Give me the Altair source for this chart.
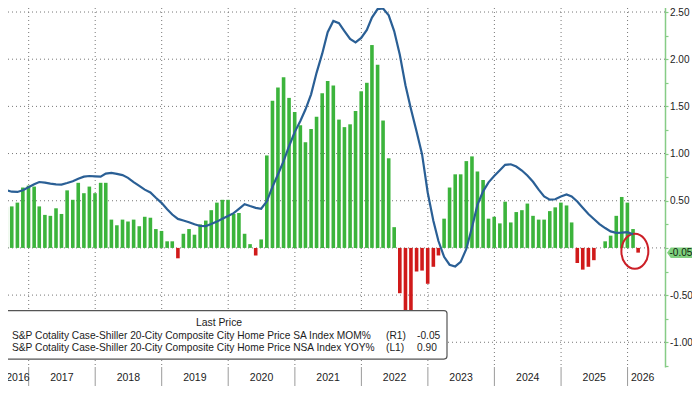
import altair as alt
import pandas as pd

# ---------------- data ----------------
# S&P Cotality Case-Shiller 20-City SA Index MoM %  (Aug 2016 .. Feb 2026)
mom_2016 = [0.43, 0.44, 0.48, 0.64, 0.66]
mom_2017 = [0.65, 0.44, 0.35, 0.34, 0.42, 0.36, 0.61, 0.51, 0.69, 0.58, 0.65, 0.58]
mom_2018 = [0.69, 0.69, 0.30, 0.24, 0.30, 0.28, 0.30, 0.23, 0.33, 0.32, 0.20, 0.18]
mom_2019 = [0.07, 0.07, -0.11, 0.15, 0.20, 0.14, 0.25, 0.29, 0.40, 0.48, 0.51, 0.51]
mom_2020 = [0.36, 0.37, 0.15, 0.04, -0.08, 0.09, 0.98, 1.56, 1.70, 1.81, 1.59, 1.44]
mom_2021 = [1.30, 1.12, 1.26, 1.39, 1.64, 1.77, 1.72, 1.36, 1.28, 1.31, 1.45, 1.66]
mom_2022 = [1.75, 2.15, 1.94, 1.35, 0.95, 0.22, -0.48, -0.80, -0.75, -0.25, -0.24, -0.38]
mom_2023 = [-0.20, -0.08, 0.31, 0.64, 0.78, 0.78, 0.92, 0.97, 0.81, 0.72, 0.31, 0.33]
mom_2024 = [0.26, 0.49, 0.27, 0.38, 0.40, 0.47, 0.34, 0.30, 0.30, 0.39, 0.43, 0.48]
mom_2025 = [0.45, 0.27, -0.16, -0.23, -0.20, -0.13, 0.00, 0.07, 0.13, 0.34, 0.54, 0.48]
mom_2026 = [0.20, -0.05]
mom_start = (2016, 8)

# S&P Cotality Case-Shiller 20-City NSA Index YoY %  (Jul 2016 .. Jan 2026)
yoy_2016 = [5.25, 5.10, 4.97, 4.95, 5.10, 5.36]
yoy_2017 = [5.63, 5.83, 5.78, 5.68, 5.62, 5.60, 5.74, 5.90, 6.12, 6.30, 6.36, 6.33]
yoy_2018 = [6.31, 6.58, 6.63, 6.55, 6.44, 6.20, 5.82, 5.49, 5.15, 4.90, 4.43, 3.98]
yoy_2019 = [3.42, 2.95, 2.56, 2.42, 2.27, 2.08, 1.93, 1.92, 2.10, 2.32, 2.57, 2.81]
yoy_2020 = [3.07, 3.45, 3.87, 3.70, 3.54, 3.46, 4.12, 5.40, 6.50, 7.68, 9.00, 10.25]
yoy_2021 = [11.24, 12.25, 13.60, 15.50, 17.20, 19.10, 20.10, 19.90, 19.20, 18.50, 18.20, 18.60]
yoy_2022 = [19.30, 20.40, 21.15, 21.20, 20.60, 19.20, 17.10, 14.40, 12.30, 10.30, 8.30, 4.90]
yoy_2023 = [2.40, 0.60, -0.80, -1.50, -1.65, -1.25, -0.10, 1.80, 3.80, 5.00, 5.80, 6.37]
yoy_2024 = [6.87, 7.35, 7.40, 7.20, 6.85, 6.40, 5.85, 5.15, 4.55, 4.27, 4.30, 4.55]
yoy_2025 = [4.72, 4.55, 4.10, 3.55, 3.00, 2.55, 2.10, 1.75, 1.45, 1.33, 1.34, 1.38]
yoy_2026 = [1.20]
yoy_start = (2016, 7)

year_boundaries = [str(y) for y in range(2017, 2027)]
year_labels = ["2016", "2017", "2018", "2019", "2020", "2021", "2022", "2023", "2024", "2025", "2026"]
year_label_dates = ["2016-11-03", "2017-07-02", "2018-07-02", "2019-07-02", "2020-07-02",
                    "2021-07-02", "2022-07-02", "2023-07-02", "2024-07-02", "2025-07-02", "2026-03-25"]
right_ticks = [-1.25, -1.0, -0.75, -0.5, -0.25, 0.0, 0.25, 0.5, 0.75, 1.0, 1.25, 1.5, 1.75, 2.0, 2.25, 2.5]
grid_levels = [-1.0, -0.5, 0.0, 0.5, 1.0, 1.5, 2.0, 2.5]

legend_title = "Last Price"
legend_names = ["S&P Cotality Case-Shiller 20-City Composite City Home Price SA Index MOM%",
                "S&P Cotality Case-Shiller 20-City Composite City Home Price NSA Index YOY%"]
legend_axes = ["(R1)", "(L1)"]
legend_last = ["-0.05", "0.90"]
last_value = -0.05
last_label = "-0.05"
highlight_date = "2026-02-10"
highlight_value = -0.036

# ---------------- helpers ----------------
def month_ends(start, n):
    y, m = start
    out = []
    for _ in range(n):
        ts = pd.Timestamp(year=y, month=m, day=1) + pd.offsets.MonthEnd(0)
        out.append(ts.strftime("%Y-%m-%d"))
        m += 1
        if m > 12:
            m = 1
            y += 1
    return out


def ms(s):
    return int(pd.Timestamp(s, tz="UTC").timestamp() * 1000)


mom = mom_2016 + mom_2017 + mom_2018 + mom_2019 + mom_2020 + mom_2021 + mom_2022 + mom_2023 + mom_2024 + mom_2025 + mom_2026
yoy = yoy_2016 + yoy_2017 + yoy_2018 + yoy_2019 + yoy_2020 + yoy_2021 + yoy_2022 + yoy_2023 + yoy_2024 + yoy_2025 + yoy_2026

df_bar = pd.DataFrame({"date": month_ends(mom_start, len(mom)), "mom": mom})
df_line = pd.DataFrame({"date": month_ends(yoy_start, len(yoy)), "yoy": yoy})
df_years = pd.DataFrame({"date": [y + "-01-01" for y in year_boundaries]})
df_ylab = pd.DataFrame({"date": year_label_dates, "label": year_labels})
df_grid = pd.DataFrame({"v": grid_levels})
df_flag = pd.DataFrame({"v": [last_value], "t": [last_label]})
df_hl = pd.DataFrame({"date": [highlight_date], "v": [highlight_value]})
one = pd.DataFrame({"k": [0]})

quarters = []
for y in range(2016, 2027):
    for mth in (1, 4, 7, 10):
        d = f"{y}-{mth:02d}-01"
        if ms("2016-08-24") <= ms(d) <= ms("2026-06-28"):
            quarters.append(ms(d))

# ---------------- styling / layout ----------------
# svg is 684 x 378 (page has an 8px margin); the plot is pulled toward the page corner
W, H = 665, 363
PAD_L, PAD_T = -8, -4
SVG_W, SVG_H = 684, 378
KY = H / 367.0  # vertical layout factor
FONT = "Liberation Sans"
GREEN = "#3cb43c"
RED = "#d01a1a"
BLUE = "#2a5f95"
AXGREEN = "#86cc86"
FLAGGREEN = "#7fd07f"
GRID = "#777777"
TXT = "#1c1c1c"

x_scale = alt.Scale(domain=[ms("2016-08-24"), ms("2026-06-28")])
r_scale = alt.Scale(domain=[-1.262, 2.585], nice=False)
l_scale = alt.Scale(domain=[-10.56, 21.6], nice=False)

X = lambda: alt.X("date:T", scale=x_scale, axis=None, title=None)

label_expr = ("abs(datum.value*2 - round(datum.value*2)) < 0.001 && abs(datum.value) > 0.001 ? "
              "replace(format(datum.value, '.2f'), '\u2212', '-') : ''")
r_axis = alt.Axis(orient="right", values=right_ticks, labelExpr=label_expr, grid=False,
                  domainColor=AXGREEN, domainWidth=1.5, tickColor=AXGREEN, tickSize=3, tickWidth=1.2,
                  labelColor=TXT, labelFont=FONT, labelFontSize=10, labelPadding=1.5,
                  labelOverlap=False, labelFlush=False, title=None)
RY = lambda f: alt.Y(f, scale=r_scale, axis=r_axis, title=None)

vgrid = alt.Chart(df_years).mark_rule(color=GRID, strokeDash=[1, 3], strokeWidth=1).encode(
    x=X(), y=alt.value(0), y2=alt.value(H))

band_rules = alt.Chart(df_years).mark_rule(color="#9a9a9a", strokeWidth=1).encode(
    x=X(), y=alt.value(H), y2=alt.value(SVG_H + 10))

year_text = alt.Chart(df_ylab).mark_text(font=FONT, fontSize=10.5, color=TXT, baseline="middle").encode(
    x=X(), y=alt.value(H + 11), text="label:N")

hgrid = alt.Chart(df_grid).mark_rule(color=GRID, strokeDash=[1, 3], strokeWidth=1).encode(
    y=RY("v:Q"), x=alt.value(0), x2=alt.value(W))

bars = alt.Chart(df_bar).mark_bar(width=3.6, clip=True).encode(
    x=alt.X("date:T", scale=x_scale, title=None,
            axis=alt.Axis(values=quarters, labels=False, grid=False, domainColor="#444", domainWidth=1.5,
                          tickColor="#555", tickSize=4, tickWidth=1)),
    y=RY("mom:Q"),
    color=alt.condition("datum.mom < 0", alt.value(RED), alt.value(GREEN)),
)

ELLIPSE = ("M 0.77 0 C 0.77 0.552 0.425 1 0 1 C -0.425 1 -0.77 0.552 -0.77 0 "
           "C -0.77 -0.552 -0.425 -1 0 -1 C 0.425 -1 0.77 -0.552 0.77 0 Z")
highlight = alt.Chart(df_hl).mark_point(shape=ELLIPSE, size=1225, filled=False, color="#cc1f27",
                                        strokeWidth=2, opacity=1).encode(
    x=X(), y=RY("v:Q"))

FLAG = "M -1 0 L -0.7 -0.42 L 1 -0.42 L 1 0.42 L -0.7 0.42 Z"
flag = alt.Chart(df_flag).mark_point(shape=FLAG, size=625, filled=True, color=FLAGGREEN,
                                     opacity=1, strokeWidth=0).encode(
    x=alt.value(W + 14.5), y=RY("v:Q"))
flag_text = alt.Chart(df_flag).mark_text(font=FONT, fontSize=10, color="#0d1f0d", align="left",
                                         baseline="middle").encode(
    x=alt.value(W + 4.5), y=RY("v:Q"), text="t:N")

bar_group = alt.layer(hgrid, bars, highlight, flag, flag_text)

line = alt.Chart(df_line).mark_line(color=BLUE, strokeWidth=2.2, clip=True).encode(
    x=X(), y=alt.Y("yoy:Q", scale=l_scale, axis=None))

# legend box
leg_box = alt.Chart(one).mark_rect(fill="white", stroke="#555", strokeWidth=1.2, cornerRadius=3).encode(
    x=alt.value(-5), x2=alt.value(447), y=alt.value(310 * KY), y2=alt.value(359 * KY))
leg_title = alt.Chart(one).mark_text(font=FONT, fontSize=10.4, color=TXT, align="center",
                                     baseline="middle").encode(
    x=alt.value(219), y=alt.value(323 * KY), text=alt.value(legend_title))

row_y = [335.7 * KY, 347.7 * KY]
sw_colors = [GREEN, BLUE]
leg_layers = [leg_box, leg_title]
for i in range(2):
    leg_layers.append(alt.Chart(one).mark_rect(color=sw_colors[i]).encode(
        x=alt.value(0), x2=alt.value(8), y=alt.value(row_y[i] - 5), y2=alt.value(row_y[i] + 5)))
    for xpos, txt in ((12, legend_names[i]), (386, legend_axes[i]), (417, legend_last[i])):
        leg_layers.append(alt.Chart(one).mark_text(font=FONT, fontSize=10.2, color=TXT, align="left",
                                                   baseline="middle").encode(
            x=alt.value(xpos), y=alt.value(row_y[i]), text=alt.value(txt)))

chart = alt.layer(vgrid, band_rules, year_text, bar_group, line, *leg_layers).resolve_scale(
    y="independent"
).properties(
    width=W, height=H,
    autosize=alt.AutoSizeParams(type="none"),
    padding={"left": PAD_L, "top": PAD_T, "right": SVG_W - (W + PAD_L), "bottom": SVG_H - (H + PAD_T)},
    background="white",
).configure_view(stroke=None)

chart.save("out.html", embed_options={"renderer": "svg", "actions": False})
